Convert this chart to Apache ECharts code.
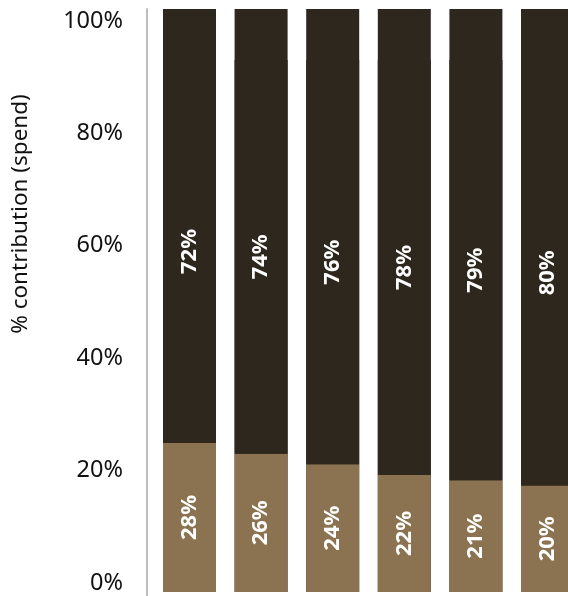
<!DOCTYPE html>
<html>
<head>
<meta charset="utf-8">
<script src="https://cdn.jsdelivr.net/npm/echarts@6/dist/echarts.min.js"></script>
<style>html,body{margin:0;padding:0;background:#fff}#c{width:568px;height:596px}</style>
</head>
<body>
<div id="c"></div>
<script>
const categories = ['1', '2', '3', '4', '5', '6'];
const lowerShare = [28, 26, 24, 22, 21, 20];
const upperShare = [72, 74, 76, 78, 79, 80];
const tickValues = [0, 20, 40, 60, 80, 100];

const DARK = '#2e271d';
const TAN = '#8b7352';
const FONT = '"Noto Sans", "Open Sans", sans-serif';

const chart = echarts.init(document.getElementById('c'), null, {renderer: 'canvas'});

const barLabel = {
  show: true,
  position: 'inside',
  rotate: 90,
  color: '#fff',
  fontFamily: FONT,
  fontWeight: 'bold',
  fontSize: 22,
  formatter: p => p.value + '%'
};

chart.setOption({
  animation: false,
  grid: [
    {left: 153.7, width: 429.6, top: 9, bottom: 4, outerBoundsMode: 'none', containLabel: false},
    {left: 147, width: 10, top: 21, bottom: 13, outerBoundsMode: 'none'},
    {left: 147, width: 10, top: 9, bottom: 0, outerBoundsMode: 'none'}
  ],
  xAxis: [
    {type: 'category', data: categories, gridIndex: 0, show: false},
    {type: 'value', gridIndex: 1, min: 0, max: 1, show: false},
    {type: 'value', gridIndex: 2, min: 0, max: 1, show: false}
  ],
  yAxis: [
    {type: 'value', gridIndex: 0, min: 0, max: 583 * 100 / 532, show: false},
    {
      type: 'value', gridIndex: 1, min: 0, max: 100, interval: 20,
      axisLine: {show: false}, axisTick: {show: false}, splitLine: {show: false},
      axisLabel: {
        margin: 24, color: '#111', fontFamily: FONT, fontSize: 23.5,
        formatter: v => tickValues.includes(v) ? v + '%' : ''
      }
    },
    {
      type: 'value', gridIndex: 2, min: 0, max: 1,
      axisLine: {show: true, lineStyle: {color: '#bdbdbd', width: 2}},
      axisTick: {show: false}, axisLabel: {show: false}, splitLine: {show: false}
    }
  ],
  series: [
    {
      type: 'bar', xAxisIndex: 0, yAxisIndex: 0, stack: 'share',
      data: lowerShare, barWidth: 53,
      itemStyle: {color: TAN},
      showBackground: true,
      backgroundStyle: {color: DARK, opacity: 1},
      label: barLabel
    },
    {
      type: 'bar', xAxisIndex: 0, yAxisIndex: 0, stack: 'share',
      data: upperShare, barWidth: 53,
      itemStyle: {color: DARK, borderWidth: 0},
      label: barLabel
    }
  ],
  graphic: [
    {
      type: 'text',
      x: 21, y: 214,
      rotation: Math.PI / 2,
      style: {
        text: '% contribution (spend)',
        fontFamily: FONT, fontSize: 22.5, fill: '#111',
        align: 'center', verticalAlign: 'middle'
      }
    }
  ]
});
</script>
</body>
</html>
